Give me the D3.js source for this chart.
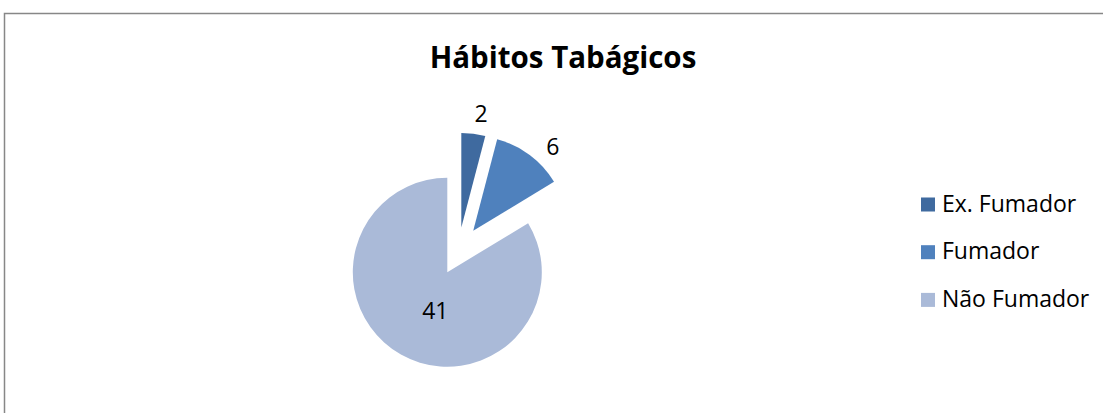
<!DOCTYPE html>
<html><head><meta charset="utf-8">
<script src="https://cdn.jsdelivr.net/npm/d3@7"></script>
<style>html,body{margin:0;padding:0;background:#fff;overflow:hidden}</style>
</head><body>
<svg id="chart" width="1103" height="413"></svg>
<script>
const title = "Hábitos Tabágicos";
const categories = ["Ex. Fumador", "Fumador", "Não Fumador"];
const values = [2, 6, 41];

// styling
const colors = ["#3F6A9F", "#4F81BD", "#AABAD8"];
const explode = [{dist: 46.9, dir: 17.4}, {dist: 48.9, dir: 32}, {dist: 0, dir: 0}];
const labelPlace = [{r: 115, da: 2.5}, {r: 116, da: 6.6}, {r: 40, da: -12}];
const font = "'Open Sans', Lato, sans-serif";

const svg = d3.select("#chart");
svg.append("rect").attr("x", 4.5).attr("y", 13.5).attr("width", 1200).attr("height", 500)
  .attr("fill", "#fff").attr("stroke", "#878787").attr("stroke-width", 1.5);

svg.append("text").attr("x", 563).attr("y", 68).attr("text-anchor", "middle")
  .attr("font-family", font).attr("font-weight", "bold").attr("font-size", 29.5)
  .attr("fill", "#000").text(title);

const cx = 447.3, cy = 272.2, R = 94.5;
const pie = d3.pie().sort(null).startAngle(0).endAngle(2 * Math.PI);
const arcs = pie(values);
const arc = d3.arc().innerRadius(0).outerRadius(R);
const rad = d => d * Math.PI / 180;

const g = svg.append("g").attr("transform", `translate(${cx},${cy})`);
arcs.forEach((a, i) => {
  const e = explode[i];
  const ox = e.dist * Math.sin(rad(e.dir)), oy = -e.dist * Math.cos(rad(e.dir));
  const sg = g.append("g").attr("transform", `translate(${ox},${oy})`);
  sg.append("path").attr("d", arc(a)).attr("fill", colors[i]);
  const mid = (a.startAngle + a.endAngle) / 2 + rad(labelPlace[i].da);
  const lr = labelPlace[i].r;
  sg.append("text").attr("x", lr * Math.sin(mid)).attr("y", -lr * Math.cos(mid))
    .attr("dy", "0.36em").attr("text-anchor", "middle")
    .attr("font-family", font).attr("font-size", 23).attr("fill", "#000")
    .text(values[i]);
});

const leg = svg.append("g");
categories.forEach((c, i) => {
  const y = 197.5 + i * 47.7;
  leg.append("rect").attr("x", 921).attr("y", y).attr("width", 14).attr("height", 14).attr("fill", colors[i]);
  leg.append("text").attr("x", 942).attr("y", y + 14).attr("font-family", font)
    .attr("font-size", 23).attr("fill", "#000").text(c);
});
</script>
</body></html>
